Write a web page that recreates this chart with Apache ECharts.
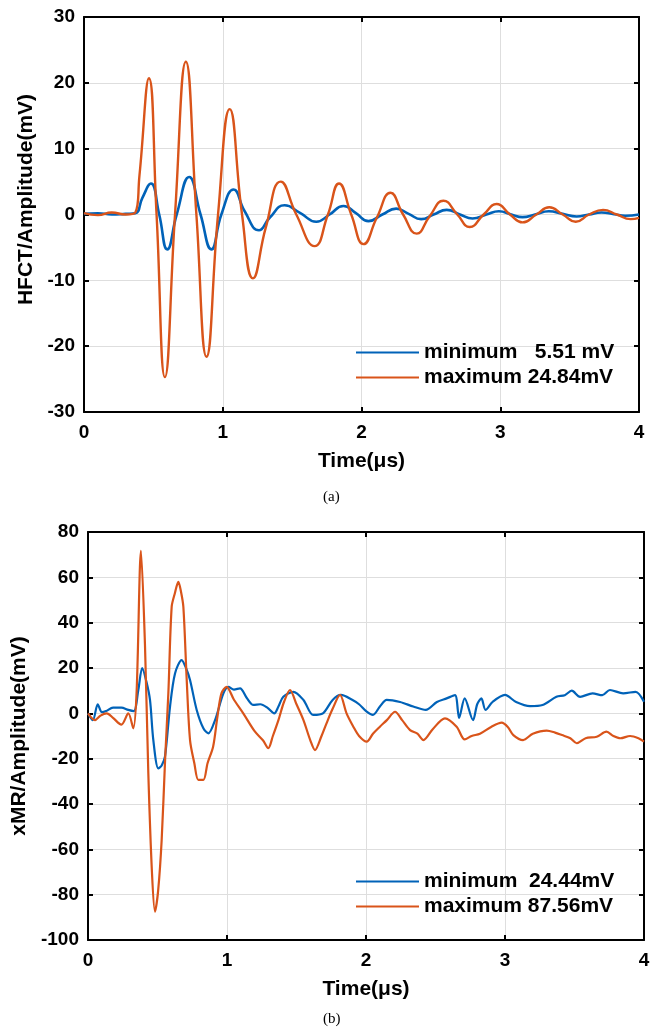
<!DOCTYPE html>
<html>
<head>
<meta charset="utf-8">
<script src="https://cdn.jsdelivr.net/npm/echarts@6/dist/echarts.min.js"></script>
<style>html,body{margin:0;padding:0;background:#fff;}#c{width:658px;height:1031px;}</style>
</head>
<body>
<div id="c"></div>
<script>
// ---- (a) HFCT ----
var hfctMinT = [0,0.1,0.2,0.3,0.37,0.42,0.482,0.542,0.60,0.668,0.758,0.84,0.918,0.99,1.079,1.158,1.261,1.338,1.446,1.56,1.674,1.77,1.87,1.96,2.05,2.15,2.25,2.34,2.43,2.52,2.614,2.71,2.80,2.9,2.99,3.08,3.16,3.25,3.35,3.45,3.55,3.64,3.73,3.82,3.9,4.0];
var hfctMinV = [0.1,0.2,0.0,0.1,0.2,2.5,4.7,0,-5.3,0,5.7,0,-5.3,0,3.8,0.5,-2.4,-0.5,1.4,0.2,-1.1,0,1.3,0.2,-1.0,0,0.9,0.1,-0.7,0,0.7,0,-0.6,0,0.5,0,-0.4,0,0.5,0.1,-0.3,0,0.3,0.05,-0.2,0];
var hfctMaxT = [0,0.1,0.2,0.3,0.37,0.40,0.468,0.523,0.583,0.656,0.734,0.81,0.883,0.966,1.05,1.139,1.218,1.31,1.418,1.53,1.662,1.758,1.838,1.926,2.015,2.11,2.209,2.30,2.398,2.49,2.59,2.69,2.78,2.88,2.974,3.07,3.161,3.26,3.353,3.45,3.544,3.64,3.741,3.84,3.94,4.0];
var hfctMaxV = [0.2,-0.1,0.3,0.0,0.3,6,20.7,0,-24.7,0,23.2,0,-21.6,0,16.0,0,-9.7,-2,5.0,0,-4.8,0,4.7,0,-4.5,-0.5,3.3,0,-2.9,-0.3,2.1,0,-1.9,0,1.6,0,-1.2,0,1.1,0,-1.1,0,0.7,0,-0.7,-0.5];
// ---- (b) xMR ----
var xmrMinT = [0,0.035,0.07,0.1,0.13,0.18,0.24,0.29,0.33,0.362,0.39,0.42,0.446,0.47,0.506,0.53,0.554,0.59,0.626,0.674,0.705,0.734,0.782,0.83,0.866,0.914,0.974,1.01,1.05,1.094,1.14,1.19,1.24,1.29,1.34,1.37,1.405,1.477,1.55,1.62,1.69,1.76,1.82,1.9,1.95,2.005,2.05,2.1,2.149,2.245,2.34,2.43,2.51,2.58,2.64,2.67,2.71,2.77,2.8,2.83,2.86,2.91,3.0,3.08,3.18,3.27,3.37,3.43,3.48,3.54,3.63,3.7,3.755,3.85,3.94,4.0];
var xmrMinV = [0,-3,4,0.5,1,2.5,2.5,1.5,1,10.3,20,14,5.9,-11.8,-24.3,-23,-19,2.9,17.6,23.5,20,14.7,1.5,-6.6,-8.8,-3,8.8,11.7,10.5,11,7,3.7,4,2.5,0,3,7.3,9.5,5.9,-0.7,0,5.9,8.1,6,4,0.7,-0.7,3,5.9,5,3,1.5,5,6.6,8,-2,6.6,-3,4,6.6,1.5,5,8.1,5,3.2,3.7,7.3,8,10,7.3,8.8,8,10.3,8.8,9.5,5.1];
var xmrMaxT = [0,0.05,0.09,0.135,0.18,0.24,0.29,0.326,0.35,0.381,0.41,0.434,0.46,0.482,0.505,0.53,0.555,0.578,0.602,0.625,0.65,0.668,0.686,0.71,0.734,0.765,0.794,0.83,0.86,0.9,0.93,0.96,0.997,1.05,1.117,1.2,1.26,1.297,1.33,1.37,1.41,1.453,1.5,1.55,1.6,1.633,1.68,1.716,1.76,1.813,1.86,1.909,1.95,2.005,2.05,2.1,2.15,2.209,2.26,2.317,2.37,2.413,2.48,2.568,2.652,2.71,2.76,2.82,2.9,2.976,3.02,3.06,3.13,3.2,3.3,3.36,3.41,3.47,3.516,3.58,3.66,3.73,3.78,3.83,3.9,3.96,4.0];
var xmrMaxV = [0,-3,-1,0,-2,-5,0,-6.6,10,71.7,30,-26.5,-70,-87.5,-78,-55.9,-20,8.8,47,53,58,54,47,15,-11.8,-22,-29.4,-29.4,-22,-14.7,-2,8.8,11.7,6,0,-8,-12,-15.4,-10,-3,5,10.3,4,-3,-12,-16.2,-10,-4.4,2,8.1,0,-5.9,-10,-12.5,-9,-5.9,-3,0.7,-3,-7.4,-9,-11.8,-7,-2.2,-5.9,-11.5,-10,-9,-6,-4.1,-6,-9.6,-11.8,-9,-7.6,-8.5,-9.6,-11,-13.2,-11,-10.3,-8.1,-10,-11,-10,-11,-12.5];
// ---- labels ----
var namesA = ['minimum   5.51 mV', 'maximum 24.84mV'];
var namesB = ['minimum  24.44mV', 'maximum 87.56mV'];
var xTitle = 'Time(μs)';
var yTitleA = 'HFCT/Amplitude(mV)';
var yTitleB = 'xMR/Amplitude(mV)';
var captions = ['(a)', '(b)'];

function pairs(t, v) { return t.map(function (x, i) { return [x, v[i]]; }); }

var BLUE = '#0062B8', ORANGE = '#D9541A';
var FONT = "'Liberation Sans', Arial, sans-serif";
var lbl = { color: '#000', fontFamily: FONT, fontWeight: 'bold', fontSize: 19 };
var nameStyle = { color: '#000', fontFamily: FONT, fontWeight: 'bold', fontSize: 21 };
var axLine = { show: true, onZero: false, lineStyle: { color: '#000', width: 2 } };
var tick = { show: true, inside: true, length: 5, lineStyle: { color: '#000', width: 2 } };
var split = { show: true, lineStyle: { color: '#dedede', width: 1 } };

function mainX(gi, gap) {
  return { type: 'value', gridIndex: gi, min: 0, max: 4, interval: 1, position: 'bottom',
    name: xTitle, nameLocation: 'middle', nameGap: gap, nameTextStyle: nameStyle,
    axisLine: axLine, axisTick: tick, axisLabel: Object.assign({ margin: 11 }, lbl), splitLine: split };
}
function topX(gi) {
  return { type: 'value', gridIndex: gi, min: 0, max: 4, interval: 1, position: 'top',
    axisLine: axLine, axisTick: tick, axisLabel: { show: false }, splitLine: { show: false } };
}
function mainY(gi, min, max, iv, nm, gap, pad) {
  return { type: 'value', gridIndex: gi, min: min, max: max, interval: iv, position: 'left',
    name: nm, nameLocation: 'middle', nameGap: gap, nameTextStyle: Object.assign({ padding: pad }, nameStyle),
    axisLine: axLine, axisTick: tick, axisLabel: Object.assign({ margin: 9 }, lbl), splitLine: split };
}
function rightY(gi, min, max, iv) {
  return { type: 'value', gridIndex: gi, min: min, max: max, interval: iv, position: 'right',
    axisLine: axLine, axisTick: tick, axisLabel: { show: false }, splitLine: { show: false } };
}
function line(name, xi, yi, data, color, w, sm) {
  return { type: 'line', name: name, xAxisIndex: xi, yAxisIndex: yi, data: data,
    symbol: 'none', smooth: sm, lineStyle: { color: color, width: w }, itemStyle: { color: color },
    animation: false, z: 3 };
}
function legend(names, top) {
  return { data: names, orient: 'vertical', left: 355, top: top, padding: 0,
    itemWidth: 63, itemHeight: 14, itemGap: 4, itemStyle: { opacity: 0 },
    textStyle: { color: '#000', fontFamily: FONT, fontWeight: 'bold', fontSize: 21, padding: [0, 0, 0, 0] },
    backgroundColor: 'transparent' };
}

var chart = echarts.init(document.getElementById('c'), null, { renderer: 'canvas' });
var capStyle = { fontFamily: "'Liberation Serif', serif", fontWeight: 'normal', fontSize: 15, color: '#000' };
chart.setOption({
  animation: false,
  backgroundColor: '#fff',
  title: [
    { text: captions[0], left: 318, top: 485, textStyle: capStyle },
    { text: captions[1], left: 318, top: 1007, textStyle: capStyle }
  ],
  grid: [
    { left: 84, top: 17, width: 555, height: 395, containLabel: false },
    { left: 88, top: 532, width: 556, height: 408, containLabel: false }
  ],
  legend: [legend(namesA, 342), legend(namesB, 871)],
  xAxis: [mainX(0, 39), topX(0), mainX(1, 39), topX(1)],
  yAxis: [mainY(0, -30, 30, 10, yTitleA, 45, [0, 0, 0, 30]), rightY(0, -30, 30, 10),
          mainY(1, -100, 80, 20, yTitleB, 47, [0, 0, 0, 0]), rightY(1, -100, 80, 20)],
  series: [
    line(namesA[0], 0, 0, pairs(hfctMinT, hfctMinV), BLUE, 2.6, 0.5),
    line(namesA[1], 0, 0, pairs(hfctMaxT, hfctMaxV), ORANGE, 2.4, 0.5),
    line(namesB[0], 2, 2, pairs(xmrMinT, xmrMinV), BLUE, 2.2, 0.3),
    line(namesB[1], 2, 2, pairs(xmrMaxT, xmrMaxV), ORANGE, 2.2, 0.3)
  ]
});
</script>
</body>
</html>
